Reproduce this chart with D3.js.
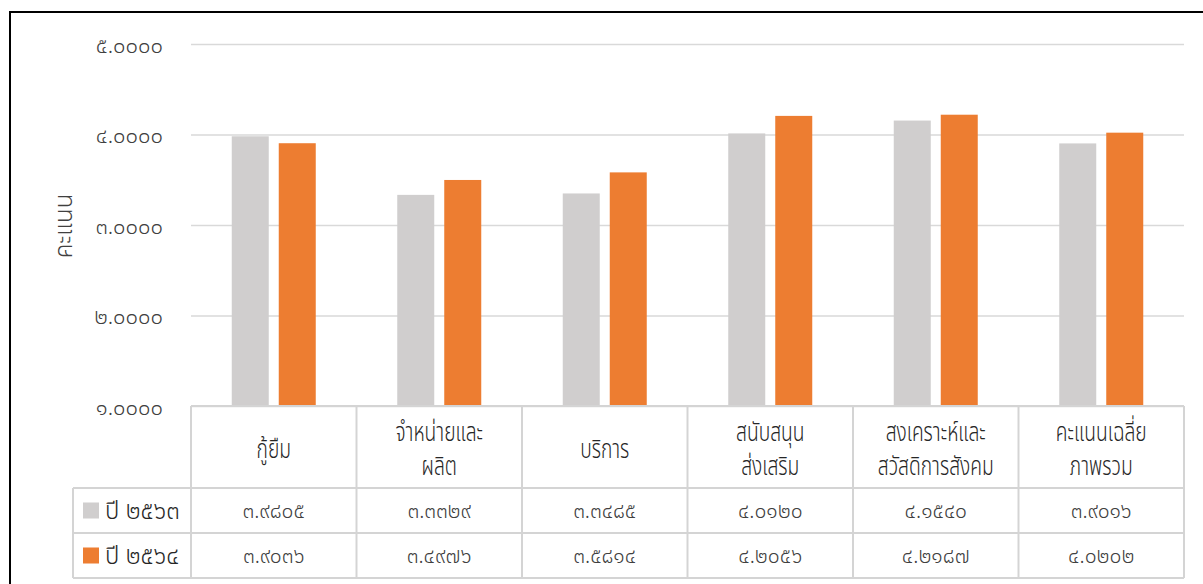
<!DOCTYPE html>
<html><head><meta charset="utf-8">
<script src="https://cdn.jsdelivr.net/npm/d3@7"></script>
<style>
html,body{margin:0;padding:0;background:#fff;}
svg{display:block;font-family:"Noto Sans","Noto Sans Thai",sans-serif;font-weight:300;}
</style></head>
<body><svg id="c" width="1203" height="584"></svg>
<script>
const categories = [["กู้ยืม"],["จำหน่ายและ","ผลิต"],["บริการ"],["สนับสนุน","ส่งเสริม"],["สงเคราะห์และ","สวัสดิการสังคม"],["คะแนนเฉลี่ย","ภาพรวม"]];
const seriesNames = ["ปี ๒๕๖๓","ปี ๒๕๖๔"];
const values2563 = [3.9805, 3.3329, 3.3485, 4.0120, 4.1540, 3.9016];
const values2564 = [3.9036, 3.4976, 3.5814, 4.2056, 4.2187, 4.0202];
const yTicks = [1, 2, 3, 4, 5];
const yTitle = "คะแนน";
const colors = ["#d0cece", "#ed7d31"];

(function () {
const thaiDigits = "๐๑๒๓๔๕๖๗๘๙";
const toThai = s => s.replace(/[0-9]/g, d => thaiDigits[+d]);
const fmt = v => toThai(v.toFixed(4));

const svg = d3.select("#c");
const W = 1203, H = 584;
const pLeft = 191, pRight = 1184, pTop = 44, pBottom = 406;
const series = [values2563, values2564];
const catKeys = categories.map((c, i) => i);

// outer frame
svg.append("rect").attr("x", 10).attr("y", 12).attr("width", W + 20).attr("height", H + 20)
  .attr("fill", "none").attr("stroke", "#000").attr("stroke-width", 2);

const y = d3.scaleLinear().domain([1, 5]).range([pBottom, pTop]);
const x0 = d3.scaleBand().domain(catKeys).range([pLeft, pRight]).paddingInner(0).paddingOuter(0);
const x1 = d3.scaleBand().domain([0, 1]).range([0, x0.bandwidth()]).paddingInner(10/47).paddingOuter(0.867);

// gridlines + tick labels
const yAxis = d3.axisLeft(y).tickValues(yTicks).tickSize(-(pRight - pLeft)).tickFormat(d => fmt(d));
const gy = svg.append("g").attr("transform", `translate(${pLeft},0)`).call(yAxis)
  .attr("font-family", null).attr("font-size", null);
gy.select(".domain").remove();
gy.selectAll(".tick line").attr("stroke", "#d9d9d9").attr("stroke-width", 1.5);
gy.selectAll(".tick text").attr("x", -28).attr("dy", "0.38em").attr("font-size", 22)
  .attr("font-weight", 300).attr("fill", "#404040");

// y title
svg.append("text").attr("transform", "translate(64,226) rotate(-90)").attr("text-anchor", "middle")
  .attr("dy", "0.35em").attr("font-size", 24).attr("fill", "#404040").text(yTitle);

// bars
series.forEach((vals, si) => {
  svg.append("g").selectAll("rect").data(vals).join("rect")
    .attr("x", (d, i) => x0(i) + x1(si))
    .attr("width", x1.bandwidth())
    .attr("y", d => y(d))
    .attr("height", d => y(1) - y(d))
    .attr("fill", colors[si]);
});

// data table
const tableLeft = 73;
const rowY = [pBottom, 488, 533, 578];
const lc = "#d4d4d4";
const tg = svg.append("g").attr("stroke", lc).attr("stroke-width", 2);
tg.append("line").attr("x1", pLeft).attr("x2", pRight).attr("y1", rowY[0]).attr("y2", rowY[0]);
[1, 2, 3].forEach(k => tg.append("line").attr("x1", tableLeft).attr("x2", pRight).attr("y1", rowY[k]).attr("y2", rowY[k]));
catKeys.forEach(i => tg.append("line").attr("x1", x0(i)).attr("x2", x0(i)).attr("y1", rowY[0]).attr("y2", rowY[3]));
tg.append("line").attr("x1", pRight).attr("x2", pRight).attr("y1", rowY[0]).attr("y2", rowY[3]);
tg.append("line").attr("x1", tableLeft).attr("x2", tableLeft).attr("y1", rowY[1]).attr("y2", rowY[3]);

// header text
categories.forEach((lines, i) => {
  const cx = x0(i) + x0.bandwidth() / 2;
  const cy = 449;
  const lh = 34;
  const t = svg.append("g").attr("transform", `translate(${cx},${cy}) scale(0.74,1)`)
    .append("text").attr("text-anchor", "middle").attr("font-size", 26).attr("fill", "#262626");
  lines.forEach((ln, k) => {
    t.append("tspan").attr("x", 0).attr("y", (k - (lines.length - 1) / 2) * lh).attr("dy", "0.35em").text(ln);
  });
});

// value rows
series.forEach((vals, si) => {
  const cy = (rowY[si + 1] + rowY[si + 2]) / 2;
  svg.append("rect").attr("x", 83).attr("y", cy - 8).attr("width", 16).attr("height", 16).attr("fill", colors[si]);
  svg.append("text").attr("x", 105).attr("y", cy).attr("dy", "0.35em").attr("font-size", 24).attr("fill", "#262626").text(seriesNames[si]);
  svg.append("g").selectAll("text").data(vals).join("text")
    .attr("x", (d, i) => x0(i) + x0.bandwidth() / 2)
    .attr("y", cy).attr("dy", "0.35em").attr("text-anchor", "middle")
    .attr("font-size", 21).attr("font-weight", 300).attr("fill", "#404040").text(d => fmt(d));
});
})();
</script></body></html>
